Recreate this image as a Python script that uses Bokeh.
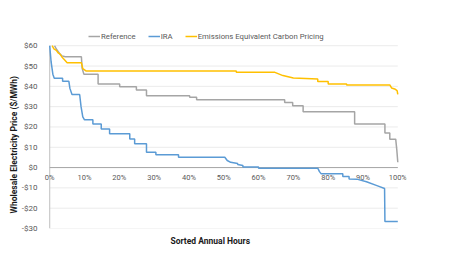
from bokeh.plotting import figure
from bokeh.models import Range1d, FixedTicker, Legend, LegendItem, Title, ColumnDataSource
from bokeh.core.properties import value
from bokeh.embed import file_html
from bokeh.resources import INLINE

# ---- data ----
ref_hours = [1.4, 1.9, 2.5, 2.9, 3.5, 4.5, 9.1, 9.3, 9.8, 13.9, 13.9, 20.1, 20.1, 24.9, 24.9, 27.8, 27.8,
             40.2, 40.2, 42.2, 42.2, 67.5, 67.5, 69.8, 69.8, 72.8, 72.8, 87.6, 87.6, 96.3, 96.3, 97.7, 97.7,
             99.4, 99.7, 100]
ref_price = [60, 58.4, 57, 56, 55, 54.6, 54.6, 49, 46, 46, 41.2, 41.2, 39.8, 39.8, 38.2, 38.2, 35.4,
             35.4, 34.6, 34.6, 33.4, 33.4, 32.1, 32.1, 30.5, 30.5, 27.5, 27.5, 21.5, 21.5, 17, 17, 14,
             14, 9, 2.6]

ira_hours = [0, 0.4, 0.9, 1.3, 3.7, 3.7, 5.5, 5.8, 6.4, 8.6, 9.0, 9.5, 10.0, 12.4, 12.4, 14.8, 14.8,
             17.2, 17.2, 23.0, 23.0, 24.4, 24.4, 27.8, 27.8, 30.5, 30.5, 37.0, 37.0, 50.3, 51.0, 52.0,
             54.0, 54.0, 55.5, 55.5, 60.0, 60.0, 77.0, 77.5, 78.0, 84.2, 84.2, 86.0, 86.0, 88.5, 91.0,
             94.0, 96.2, 96.3, 100]
ira_price = [60, 52, 46, 44, 44, 42.5, 42.5, 39, 36, 36, 30, 25, 23.5, 23.5, 21.5, 21.5, 19,
             19, 16.6, 16.6, 14.1, 14.1, 11.7, 11.7, 7.5, 7.5, 6.3, 6.3, 5.1, 5.1, 3.5, 2.6,
             2.0, 1.5, 1.0, 0.3, 0.3, -0.3, -0.3, -2.0, -3.1, -3.1, -4.4, -4.4, -5.6, -5.8, -7.0,
             -8.9, -10.3, -26.6, -26.6]

ecp_hours = [0.7, 1.2, 1.9, 2.4, 2.9, 3.5, 4.3, 5.0, 9.1, 9.5, 10.5, 53.6, 53.6, 64.7, 67.0, 70.0,
             77.0, 77.0, 80.0, 80.0, 85.3, 85.3, 97.7, 98.2, 99.1, 99.8, 100]
ecp_price = [60, 58.5, 57.7, 56.5, 56, 54.5, 53, 51.6, 51.6, 48.7, 47.5, 47.5, 46.9, 46.9, 45.3, 44.1,
             43.6, 42.4, 42.4, 41.2, 41.2, 40.7, 40.7, 39.2, 38.7, 37.9, 36.0]

series_names = ["Reference", "IRA", "Emissions Equivalent Carbon Pricing"]
series_colors = ["#a5a5a5", "#5b9bd5", "#ffc000"]

x_ticks = [0, 10, 20, 30, 40, 50, 60, 70, 80, 90, 100]
x_tick_labels = ["0%", "10%", "20%", "30%", "40%", "50%", "60%", "70%", "80%", "90%", "100%"]
y_ticks = [-30, -20, -10, 0, 10, 20, 30, 40, 50, 60]
y_tick_labels = ["-$30", "-$20", "-$10", "$0", "$10", "$20", "$30", "$40", "$50", "$60"]

FONT = "Roboto"

# frame a bit larger than the data area so end tick labels and the legend are not clipped
p = figure(width=460, height=265, x_range=Range1d(-1.5, 102.5), y_range=Range1d(-30, 67.5),
           output_backend="svg", toolbar_location=None, x_axis_location=None,
           min_border_left=44, min_border_right=54, min_border_top=30, min_border_bottom=37)
p.outline_line_color = None
p.background_fill_color = "white"
p.xgrid.visible = False
p.ygrid.visible = False

# horizontal grid lines spanning the 0..100 % range
n = len(y_ticks)
gsrc = ColumnDataSource(dict(x0=[x_ticks[0]] * n, x1=[x_ticks[-1]] * n, y=y_ticks))
p.segment(x0="x0", y0="y", x1="x1", y1="y", source=gsrc, line_color="#ebebeb", line_width=1)

# y axis: labels only; its line is drawn at x = 0
ya = p.yaxis[0]
ya.ticker = FixedTicker(ticks=y_ticks)
ya.major_label_overrides = {t: l for t, l in zip(y_ticks, y_tick_labels)}
ya.major_tick_line_color = None
ya.minor_tick_line_color = None
ya.axis_line_color = None
ya.major_label_text_font = FONT
ya.major_label_text_font_size = "8px"
ya.major_label_text_color = "#595959"
ya.major_label_standoff = 1

p.segment(x0=[x_ticks[0]], y0=[y_ticks[0]], x1=[x_ticks[0]], y1=[y_ticks[-1]],
          line_color="#bfbfbf", line_width=1)
# zero line acting as x axis
p.segment(x0=[x_ticks[0]], y0=[0], x1=[x_ticks[-1]], y1=[0], line_color="#a6a6a6", line_width=1)

# x tick labels along the zero line
xsrc = ColumnDataSource(dict(x=x_ticks, y=[0] * len(x_ticks), t=x_tick_labels))
p.text(x="x", y="y", text="t", source=xsrc, text_font=value(FONT), text_font_size="7.5px",
       text_color="#595959", text_align="center", text_baseline="middle", y_offset=10)

renderers = []
for hx, hy, c in [(ref_hours, ref_price, series_colors[0]),
                  (ira_hours, ira_price, series_colors[1]),
                  (ecp_hours, ecp_price, series_colors[2])]:
    r = p.line(hx, hy, line_color=c, line_width=1.5)
    renderers.append(r)

legend = Legend(items=[LegendItem(label=nm, renderers=[r]) for nm, r in zip(series_names, renderers)],
                orientation="horizontal", location=(44, 187))
legend.label_text_font = FONT
legend.label_text_font_size = "7.75px"
legend.label_text_color = "#595959"
legend.glyph_width = 12
legend.glyph_height = 10
legend.label_height = 10
legend.label_width = 0
legend.label_standoff = 1
legend.spacing = 12
legend.padding = 0
legend.margin = 0
legend.border_line_color = None
legend.background_fill_alpha = 0
p.add_layout(legend, "center")

yt = Title(text="Wholesale Electricity Price ($/MWh)", align="left", offset=15, standoff=0,
           text_font=FONT, text_font_size="8.5px", text_font_style="bold", text_color="#1a1a1a")
p.add_layout(yt, "left")

xt = Title(text="Sorted Annual Hours", align="left", offset=126, text_font=FONT,
           text_font_size="8.5px", text_font_style="bold", text_color="#1a1a1a")
p.add_layout(xt, "below")

open("out.html", "w").write(file_html(p, INLINE))
